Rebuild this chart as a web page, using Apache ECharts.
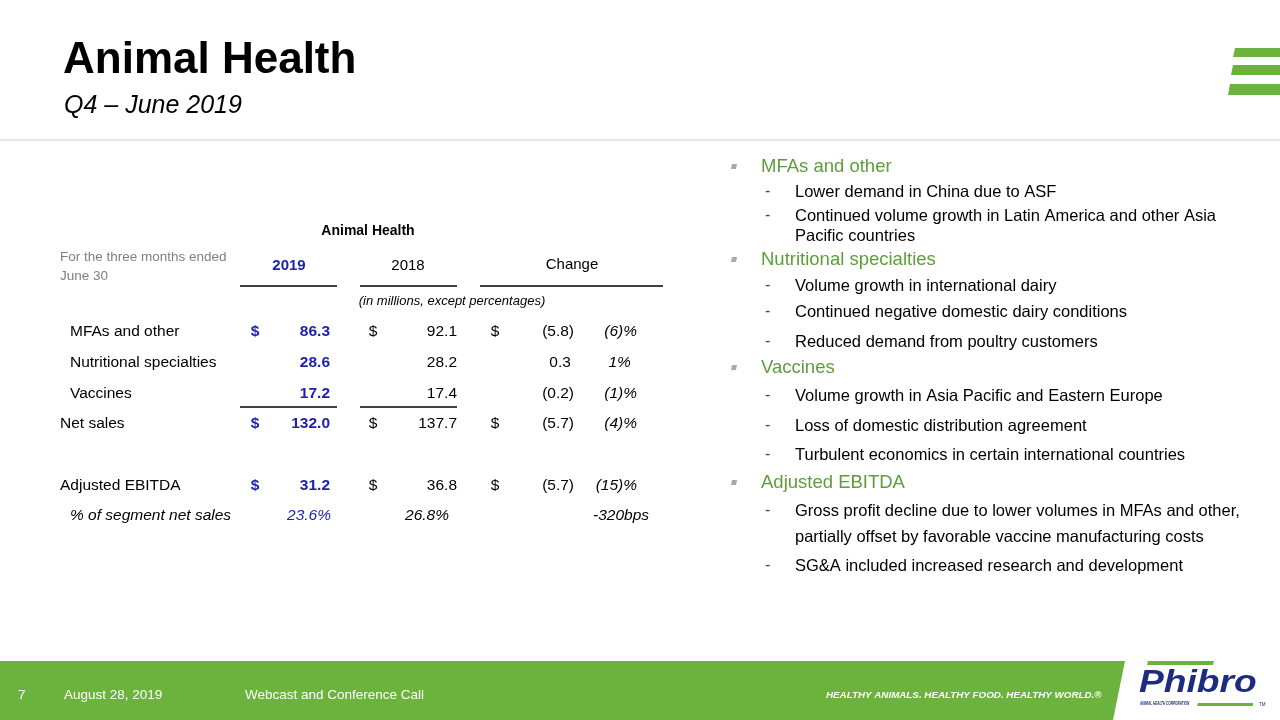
<!DOCTYPE html>
<html>
<head>
<meta charset="utf-8">
<script src="https://cdn.jsdelivr.net/npm/echarts@6/dist/echarts.min.js"></script>
<style>html,body{margin:0;padding:0;background:#fff}#c{width:1280px;height:720px}</style>
</head>
<body>
<div id="c"></div>
<script>
// ---------- data ----------
const slideTitle = 'Animal Health';
const slideSubtitle = 'Q4 \u2013 June 2019';
const tableTitle = 'Animal Health';
const periodLabel = ['For the three months ended', 'June 30'];
const columnHeads = ['2019', '2018', 'Change'];
const unitNote = '(in millions, except percentages)';
const rowLabels = ['MFAs and other', 'Nutritional specialties', 'Vaccines', 'Net sales', 'Adjusted EBITDA', '% of segment net sales'];
const values2019 = [86.3, 28.6, 17.2, 132.0, 31.2, 23.6];
const values2018 = [92.1, 28.2, 17.4, 137.7, 36.8, 26.8];
const changeAmount = [-5.8, 0.3, -0.2, -5.7, -5.7, null];
const changePct = [-6, 1, -1, -4, -15, null];
const marginChangeBps = -320;
const dollarRows = [true, false, false, true, true, false];
const percentRow = [false, false, false, false, false, true];
const indentRow = [true, true, true, false, false, true];

const bulletLines = [
  ['h', 'MFAs and other'],
  ['d', 'Lower demand in China due to ASF'],
  ['d', 'Continued volume growth in Latin America and other Asia'],
  ['c', 'Pacific countries'],
  ['h', 'Nutritional specialties'],
  ['d', 'Volume growth in international dairy'],
  ['d', 'Continued negative domestic dairy conditions'],
  ['d', 'Reduced demand from poultry customers'],
  ['h', 'Vaccines'],
  ['d', 'Volume growth in Asia Pacific and Eastern Europe'],
  ['d', 'Loss of domestic distribution agreement'],
  ['d', 'Turbulent economics in certain international countries'],
  ['h', 'Adjusted EBITDA'],
  ['d', 'Gross profit decline due to lower volumes in MFAs and other,'],
  ['c', 'partially offset by favorable vaccine manufacturing costs'],
  ['d', 'SG&A included increased research and development']
];
const footerTexts = ['7', 'August 28, 2019', 'Webcast and Conference Call'];
const tagline = 'HEALTHY ANIMALS. HEALTHY FOOD. HEALTHY WORLD.\u00AE';
const logoName = 'Phibro';
const logoSub = 'ANIMAL HEALTH CORPORATION';

// ---------- layout / style ----------
const FONT = '"Liberation Sans", Arial, Helvetica, sans-serif';
const BLUE = '#1f23a8';
const GREEN = '#6cb33e';
const HEAD_GREEN = '#5d9e3a';
const NAVY = '#1d2b80';
const bulletY = [167, 192, 216, 236, 260, 286, 312, 342, 368, 396, 426, 455, 483, 511, 537, 566];

function T(x, y, text, o) {
  o = o || {};
  const size = o.size || 15;
  const font = (o.style || 'normal') + ' ' + (o.weight || 'normal') + ' ' + size + 'px ' + FONT;
  return {
    type: 'text', x: x, y: y, silent: true, z: 10,
    scaleX: o.scaleX || 1,
    style: {
      text: text, fill: o.color || '#000', font: font,
      align: o.align || 'left', verticalAlign: 'middle',
      textAlign: o.align || 'left', textVerticalAlign: 'middle'
    }
  };
}
function L(x1, y1, x2, y2, color, w) {
  return { type: 'line', silent: true, shape: { x1: x1, y1: y1, x2: x2, y2: y2 }, style: { stroke: color || '#000', lineWidth: w || 1.3 } };
}
function P(points, color) {
  return { type: 'polygon', silent: true, shape: { points: points }, style: { fill: color } };
}

const graphics = [];
// header
graphics.push(T(63, 61, slideTitle, { size: 44, weight: 'bold' }));
graphics.push(T(64, 106, slideSubtitle, { size: 25, style: 'italic' }));
graphics.push(L(0, 140, 1280, 140, '#e8e8e8', 2));
graphics.push(P([[1235, 48], [1280, 48], [1280, 57], [1233, 57]], GREEN));
graphics.push(P([[1233, 65], [1280, 65], [1280, 75], [1231, 75]], GREEN));
graphics.push(P([[1230, 84], [1280, 84], [1280, 95], [1228, 95]], GREEN));

// table header
graphics.push(T(368, 231, tableTitle, { size: 14, weight: 'bold', align: 'center' }));
graphics.push(T(60, 257, periodLabel[0], { size: 13.5, color: '#7f7f7f' }));
graphics.push(T(60, 276, periodLabel[1], { size: 13.5, color: '#7f7f7f' }));
graphics.push(T(289, 266, columnHeads[0], { size: 15, weight: 'bold', color: BLUE, align: 'center' }));
graphics.push(T(408, 266, columnHeads[1], { size: 15, align: 'center' }));
graphics.push(T(572, 265, columnHeads[2], { size: 15, align: 'center' }));
graphics.push(L(240, 286, 337, 286));
graphics.push(L(360, 286, 457, 286));
graphics.push(L(480, 286, 663, 286));
graphics.push(T(452, 301, unitNote, { size: 13, style: 'italic', align: 'center' }));
graphics.push(L(240, 407, 337, 407));
graphics.push(L(360, 407, 457, 407));

// right bullets
bulletLines.forEach(function (b, i) {
  const y = bulletY[i];
  if (b[0] === 'h') {
    graphics.push(P([[732, y - 3], [737, y - 3], [736, y + 2], [731, y + 2]], '#a8a8a8'));
    graphics.push(T(761, y, b[1], { size: 18.5, color: HEAD_GREEN }));
  } else {
    if (b[0] === 'd') graphics.push(T(765, y, '-', { size: 16, color: '#444' }));
    graphics.push(T(795, y, b[1], { size: 16.5 }));
  }
});

// footer
graphics.push(P([[0, 661], [1125, 661], [1113, 720], [0, 720]], GREEN));
graphics.push(T(18, 695, footerTexts[0], { size: 13.5, color: '#fff' }));
graphics.push(T(64, 695, footerTexts[1], { size: 13.5, color: '#fff' }));
graphics.push(T(245, 695, footerTexts[2], { size: 13.5, color: '#fff' }));
graphics.push(T(826, 695, tagline, { size: 9.8, weight: 'bold', style: 'italic', color: '#fff' }));
graphics.push(P([[1148, 661], [1214, 661], [1213, 665], [1147, 665]], GREEN));
graphics.push(T(1139, 683, logoName, { size: 31, weight: 'bold', style: 'italic', color: NAVY, scaleX: 1.2 }));
graphics.push(T(1140, 704, logoSub, { size: 5, weight: 'bold', style: 'italic', color: NAVY, scaleX: 0.62 }));
graphics.push(P([[1198, 703], [1253, 703], [1253, 706], [1197, 706]], GREEN));
graphics.push(T(1259, 705, 'TM', { size: 4.5, color: NAVY }));

// ---------- table through scales ----------
const rowKeys = ['MFAs and other', 'Nutritional specialties', 'Vaccines', 'Net sales', 'spacer', 'Adjusted EBITDA', '% of segment net sales'];
const colLabelX = [70, 60];
const colX = { d2019: 255, v2019: 330, d2018: 373, v2018: 457, dChg: 495, vChg: 574, pct: 637 };

function fmt(v) { return v.toFixed(1); }
function fmtChange(v) { return v < 0 ? '(' + Math.abs(v).toFixed(1) + ')' : v.toFixed(1) + '\u2009'; }
function fmtPct(v) { return v < 0 ? '(' + Math.abs(v) + ')%' : v + '%\u2009\u2009'; }

function textSeries(name, items) {
  return {
    type: 'scatter', name: name, symbolSize: 0, silent: true, animation: false,
    itemStyle: { opacity: 1 },
    data: items.map(function (it) {
      return {
        value: [it.x, it.row],
        label: {
          show: true, position: 'inside', formatter: it.text, opacity: 1,
          align: it.align || 'left', verticalAlign: 'middle',
          color: it.color || '#000', fontSize: it.size || 15.5,
          fontWeight: it.weight || 'normal', fontStyle: it.style || 'normal', fontFamily: FONT
        }
      };
    })
  };
}

const labelItems = rowLabels.map(function (r, i) {
  return { x: indentRow[i] ? colLabelX[0] : colLabelX[1], row: r, text: r, style: percentRow[i] ? 'italic' : 'normal' };
});
const d2019Items = [], v2019Items = [], d2018Items = [], v2018Items = [], dChgItems = [], vChgItems = [], pctItems = [];
rowLabels.forEach(function (r, i) {
  if (dollarRows[i]) {
    d2019Items.push({ x: colX.d2019, row: r, text: '$', align: 'center', color: BLUE, weight: 'bold' });
    d2018Items.push({ x: colX.d2018, row: r, text: '$', align: 'center' });
    dChgItems.push({ x: colX.dChg, row: r, text: '$', align: 'center' });
  }
  if (percentRow[i]) {
    v2019Items.push({ x: colX.v2019 + 1, row: r, text: fmt(values2019[i]) + '%', align: 'right', color: BLUE, style: 'italic' });
    v2018Items.push({ x: colX.v2018 - 8, row: r, text: fmt(values2018[i]) + '%', align: 'right', style: 'italic' });
    pctItems.push({ x: colX.pct + 12, row: r, text: marginChangeBps + 'bps', align: 'right', style: 'italic' });
  } else {
    v2019Items.push({ x: colX.v2019, row: r, text: fmt(values2019[i]), align: 'right', color: BLUE, weight: 'bold' });
    v2018Items.push({ x: colX.v2018, row: r, text: fmt(values2018[i]), align: 'right' });
    vChgItems.push({ x: colX.vChg, row: r, text: fmtChange(changeAmount[i]), align: 'right' });
    pctItems.push({ x: colX.pct, row: r, text: fmtPct(changePct[i]), align: 'right', style: 'italic' });
  }
});

const option = {
  animation: false,
  backgroundColor: '#ffffff',
  grid: { left: 0, right: 0, top: 316.5, height: 214.9, containLabel: false },
  xAxis: { type: 'value', min: 0, max: 1280, show: false },
  yAxis: { type: 'category', data: rowKeys, inverse: true, show: false },
  series: [
    textSeries('labels', labelItems),
    textSeries('$2019', d2019Items),
    textSeries('2019', v2019Items),
    textSeries('$2018', d2018Items),
    textSeries('2018', v2018Items),
    textSeries('$chg', dChgItems),
    textSeries('chg', vChgItems),
    textSeries('pct', pctItems)
  ],
  graphic: { elements: graphics }
};

const chart = echarts.init(document.getElementById('c'), null, { renderer: 'canvas' });
chart.setOption(option);
</script>
</body>
</html>
